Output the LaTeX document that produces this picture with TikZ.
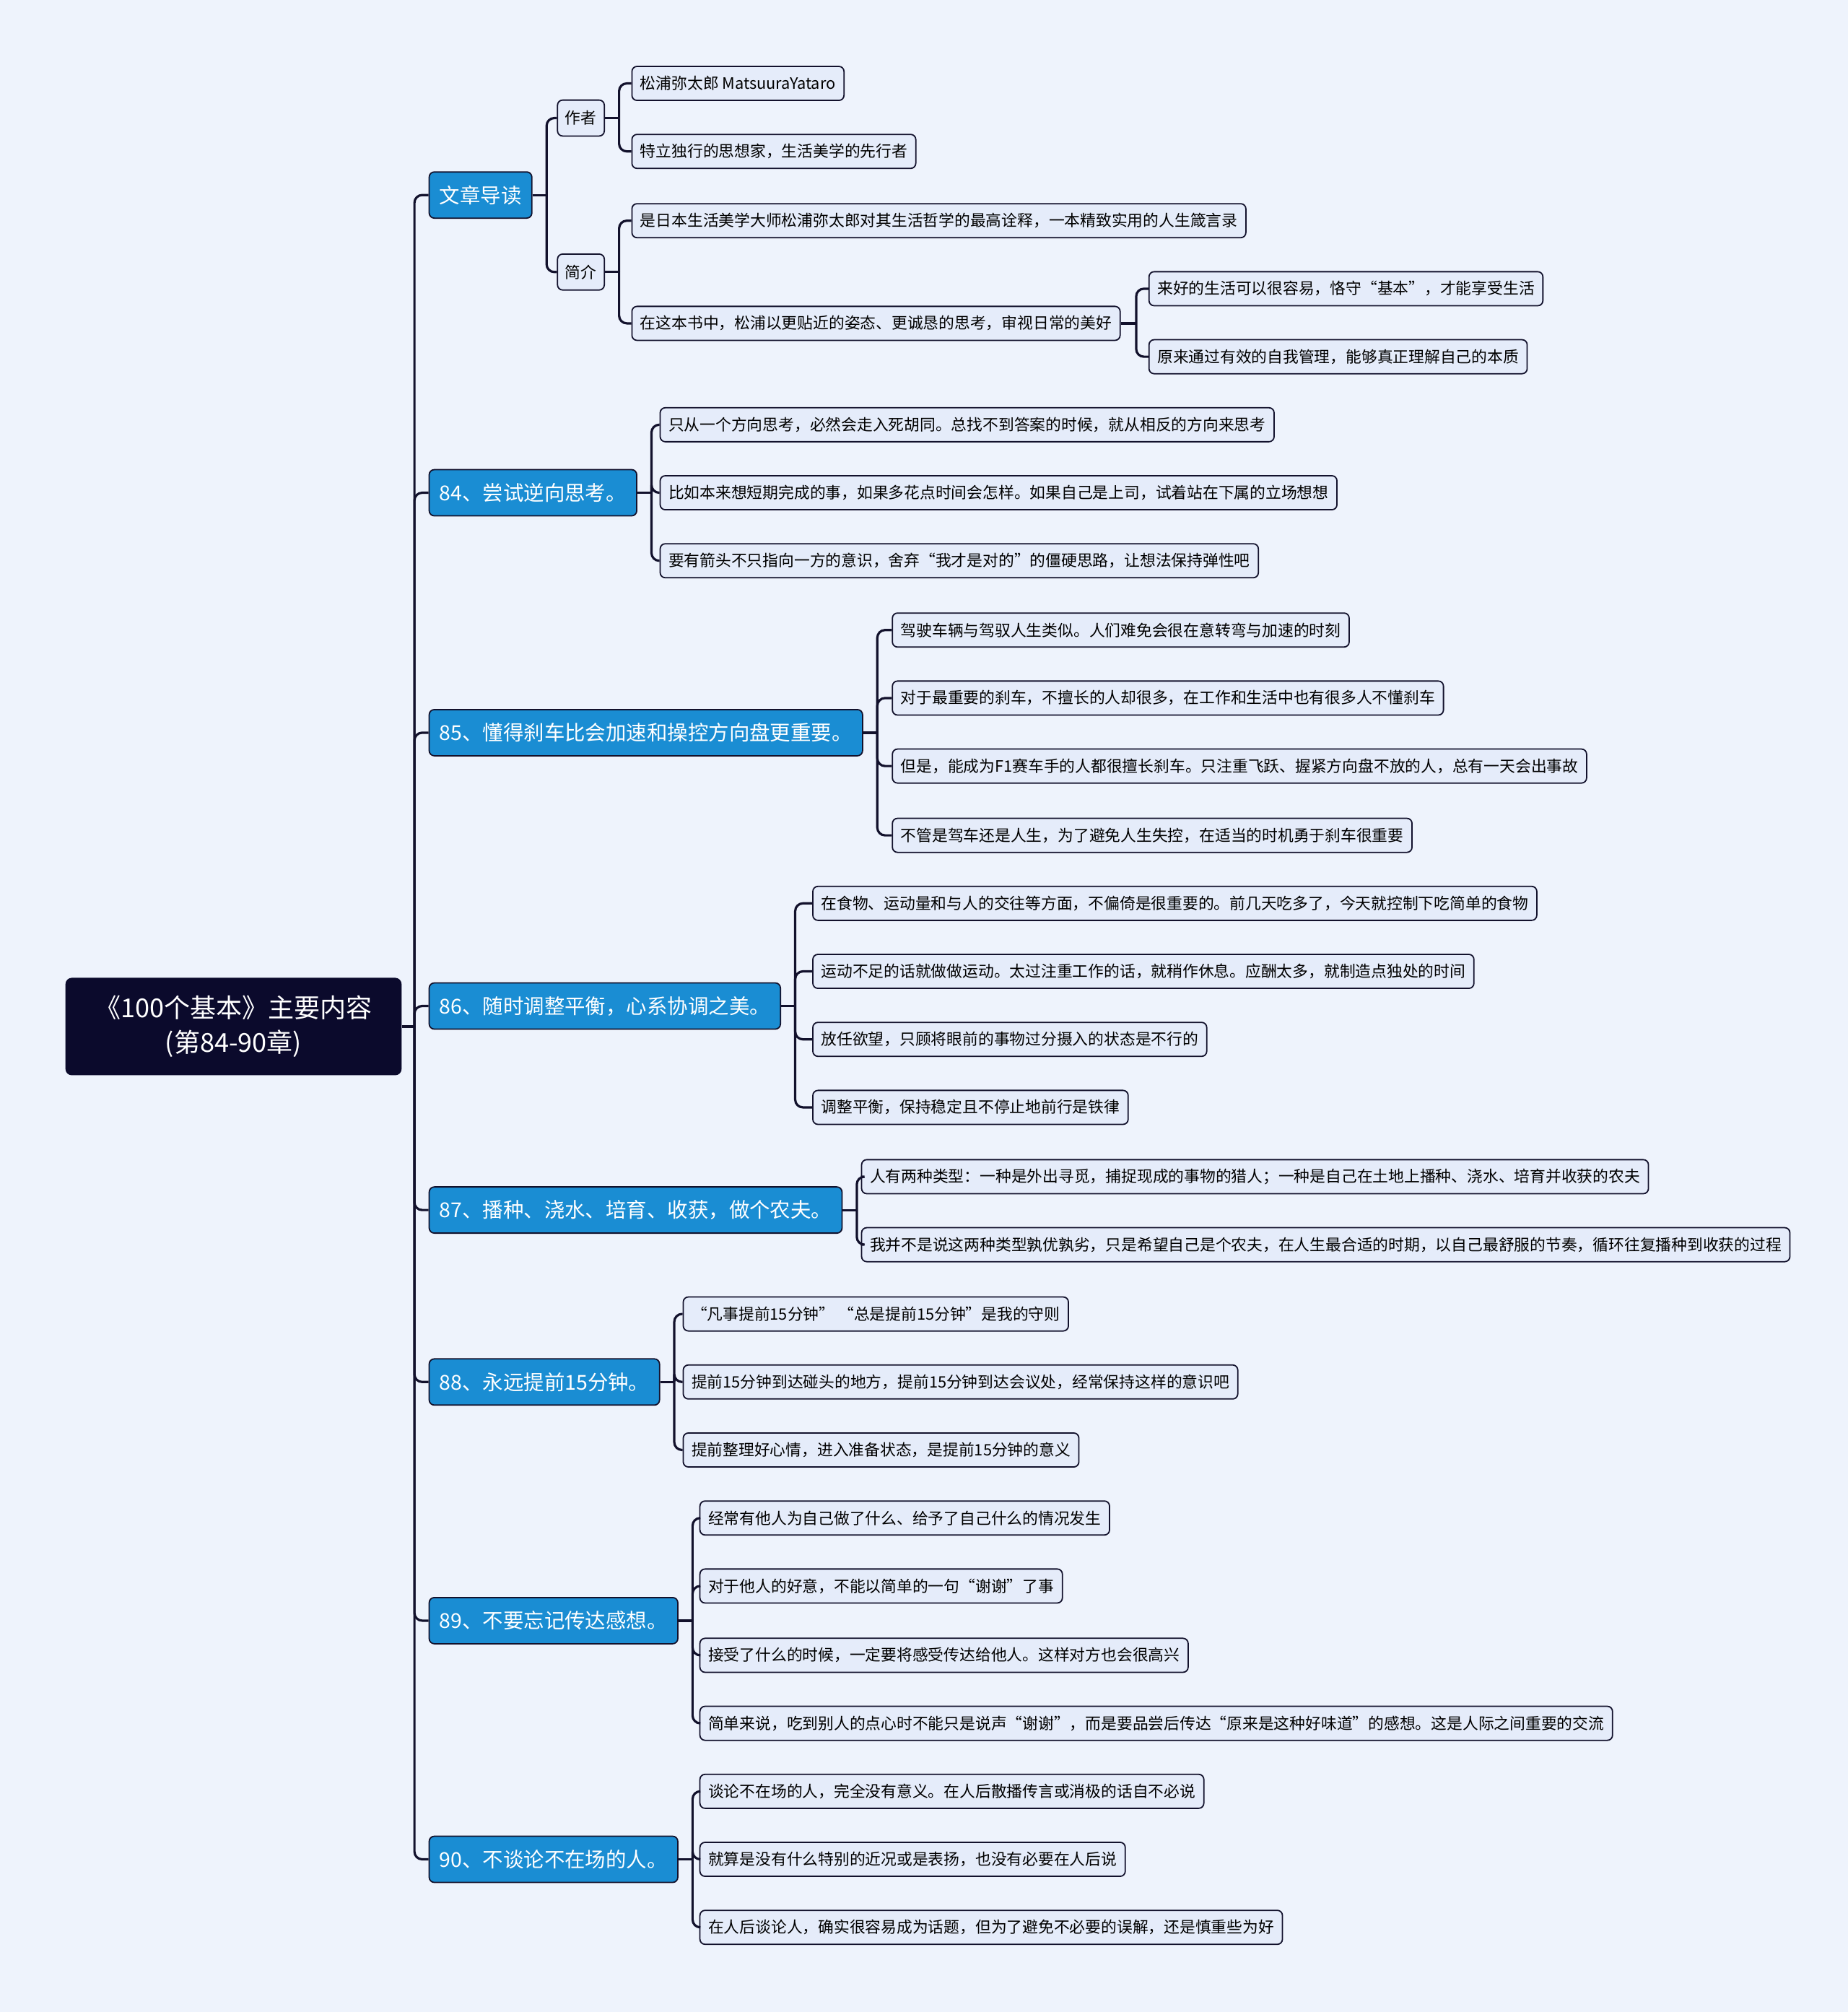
\documentclass[tikz,border=0pt]{standalone}
\usepackage{fontspec}
\setmainfont{Noto Sans CJK SC}
\definecolor{bgcol}{HTML}{EEF3FC}
\definecolor{leaffill}{HTML}{E5ECFA}
\definecolor{linecol}{HTML}{12112C}
\definecolor{branchfill}{HTML}{1A8DD3}
\definecolor{rootfill}{HTML}{0B0A2C}
\begin{document}
\begin{tikzpicture}[x=1pt,y=-1pt,
    link/.style={draw=linecol,line width=1.8pt,rounded corners=6pt},
    leaf/.style={draw=linecol,fill=leaffill,line width=1pt,rounded corners=4pt,anchor=west,
      inner xsep=6.5pt,inner ysep=0pt,minimum height=26.5pt,font=\fontsize{12.25}{14}\selectfont},
    small/.style={leaf,inner xsep=6pt,minimum height=28pt},
    branch/.style={draw=linecol,fill=branchfill,text=white,line width=1pt,rounded corners=4pt,anchor=west,
      inner xsep=8pt,inner ysep=0pt,minimum height=36pt,font=\fontsize{16}{19}\selectfont},
    rootbox/.style={fill=rootfill,text=white,rounded corners=5pt,align=center,
      minimum width=262pt,minimum height=76pt,inner sep=0pt,font=\fontsize{20.3}{27}\selectfont}]
    \fill[bgcol] (0,0) rectangle (1440,1568);
    \useasboundingbox (0,0) rectangle (1440,1568);
    % root and branches
    \node[rootbox] (root) at (182,800) {《100个基本》主要内容\\(第84-90章)};
    \node[branch] (b1) at (334,152) {文章导读};
    \node[branch] (b2) at (334,384) {84、尝试逆向思考。};
    \node[branch] (b3) at (334,571) {85、懂得刹车比会加速和操控方向盘更重要。};
    \node[branch] (b4) at (334,784) {86、随时调整平衡，心系协调之美。};
    \node[branch] (b5) at (334,943) {87、播种、浇水、培育、收获，做个农夫。};
    \node[branch] (b6) at (334,1077) {88、永远提前15分钟。};
    \node[branch] (b7) at (334,1263) {89、不要忘记传达感想。};
    \node[branch] (b8) at (334,1449) {90、不谈论不在场的人。};
    \draw[link] (root.east) -- (323,800) coordinate (t);
    \foreach \b in {b1,b2,b3,b4,b5,b6,b7,b8}
        \draw[link] (t) |- (\b.west);
    % 文章导读
    \node[small] (b1a) at (434,92) {作者};
    \node[small] (b1b) at (434,212) {简介};
    \draw[link] (b1.east) -- ++(11,0) coordinate (f1);
    \draw[link] (f1) |- (b1a.west);
    \draw[link] (f1) |- (b1b.west);
    \node[leaf] (b1a1) at (492,65) {松浦弥太郎 MatsuuraYataro};
    \node[leaf] (b1a2) at (492,118) {特立独行的思想家，生活美学的先行者};
    \draw[link] (b1a.east) -- ++(11,0) coordinate (f1a);
    \draw[link] (f1a) |- (b1a1.west);
    \draw[link] (f1a) |- (b1a2.west);
    \node[leaf] (b1b1) at (492,172) {是日本生活美学大师松浦弥太郎对其生活哲学的最高诠释，一本精致实用的人生箴言录};
    \node[leaf] (b1b2) at (492,252) {在这本书中，松浦以更贴近的姿态、更诚恳的思考，审视日常的美好};
    \draw[link] (b1b.east) -- ++(11,0) coordinate (f1b);
    \draw[link] (f1b) |- (b1b1.west);
    \draw[link] (f1b) |- (b1b2.west);
    \node[leaf] (b1c1) at (895,225) {来好的生活可以很容易，恪守“基本”，才能享受生活};
    \node[leaf] (b1c2) at (895,278) {原来通过有效的自我管理，能够真正理解自己的本质};
    \draw[link] (b1b2.east) -- ++(12,0) coordinate (f1c);
    \draw[link] (f1c) |- (b1c1.west);
    \draw[link] (f1c) |- (b1c2.west);
    % 84
    \node[leaf] (b2a) at (514,331) {只从一个方向思考，必然会走入死胡同。总找不到答案的时候，就从相反的方向来思考};
    \node[leaf] (b2b) at (514,384) {比如本来想短期完成的事，如果多花点时间会怎样。如果自己是上司，试着站在下属的立场想想};
    \node[leaf] (b2c) at (514,437) {要有箭头不只指向一方的意识，舍弃“我才是对的”的僵硬思路，让想法保持弹性吧};
    \draw[link] (b2.east) -- ++(11,0) coordinate (f2);
    \foreach \c in {b2a,b2b,b2c}
        \draw[link] (f2) |- (\c.west);
    % 85
    \node[leaf] (b3a) at (695,491) {驾驶车辆与驾驭人生类似。人们难免会很在意转弯与加速的时刻};
    \node[leaf] (b3b) at (695,544) {对于最重要的刹车，不擅长的人却很多，在工作和生活中也有很多人不懂刹车};
    \node[leaf] (b3c) at (695,597) {但是，能成为F1赛车手的人都很擅长刹车。只注重飞跃、握紧方向盘不放的人，总有一天会出事故};
    \node[leaf] (b3d) at (695,651) {不管是驾车还是人生，为了避免人生失控，在适当的时机勇于刹车很重要};
    \draw[link] (b3.east) -- ++(11,0) coordinate (f3);
    \foreach \c in {b3a,b3b,b3c,b3d}
        \draw[link] (f3) |- (\c.west);
    % 86
    \node[leaf] (b4a) at (633,704) {在食物、运动量和与人的交往等方面，不偏倚是很重要的。前几天吃多了，今天就控制下吃简单的食物};
    \node[leaf] (b4b) at (633,757) {运动不足的话就做做运动。太过注重工作的话，就稍作休息。应酬太多，就制造点独处的时间};
    \node[leaf] (b4c) at (633,810) {放任欲望，只顾将眼前的事物过分摄入的状态是不行的};
    \node[leaf] (b4d) at (633,863) {调整平衡，保持稳定且不停止地前行是铁律};
    \draw[link] (b4.east) -- ++(11,0) coordinate (f4);
    \foreach \c in {b4a,b4b,b4c,b4d}
        \draw[link] (f4) |- (\c.west);
    % 87
    \node[leaf] (b5a) at (671,917) {人有两种类型：一种是外出寻觅，捕捉现成的事物的猎人；一种是自己在土地上播种、浇水、培育并收获的农夫};
    \node[leaf] (b5b) at (671,970) {我并不是说这两种类型孰优孰劣，只是希望自己是个农夫，在人生最合适的时期，以自己最舒服的节奏，循环往复播种到收获的过程};
    \draw[link] (b5.east) -- ++(11,0) coordinate (f5);
    \foreach \c in {b5a,b5b}
        \draw[link] (f5) |- (\c.west);
    % 88
    \node[leaf] (b6a) at (532,1024) {“凡事提前15分钟” “总是提前15分钟”是我的守则};
    \node[leaf] (b6b) at (532,1077) {提前15分钟到达碰头的地方，提前15分钟到达会议处，经常保持这样的意识吧};
    \node[leaf] (b6c) at (532,1130) {提前整理好心情，进入准备状态，是提前15分钟的意义};
    \draw[link] (b6.east) -- ++(11,0) coordinate (f6);
    \foreach \c in {b6a,b6b,b6c}
        \draw[link] (f6) |- (\c.west);
    % 89
    \node[leaf] (b7a) at (545,1183) {经常有他人为自己做了什么、给予了自己什么的情况发生};
    \node[leaf] (b7b) at (545,1236) {对于他人的好意，不能以简单的一句“谢谢”了事};
    \node[leaf] (b7c) at (545,1290) {接受了什么的时候，一定要将感受传达给他人。这样对方也会很高兴};
    \node[leaf] (b7d) at (545,1343) {简单来说，吃到别人的点心时不能只是说声“谢谢”，而是要品尝后传达“原来是这种好味道”的感想。这是人际之间重要的交流};
    \draw[link] (b7.east) -- ++(11,0) coordinate (f7);
    \foreach \c in {b7a,b7b,b7c,b7d}
        \draw[link] (f7) |- (\c.west);
    % 90
    \node[leaf] (b8a) at (545,1396) {谈论不在场的人，完全没有意义。在人后散播传言或消极的话自不必说};
    \node[leaf] (b8b) at (545,1449) {就算是没有什么特别的近况或是表扬，也没有必要在人后说};
    \node[leaf] (b8c) at (545,1502) {在人后谈论人，确实很容易成为话题，但为了避免不必要的误解，还是慎重些为好};
    \draw[link] (b8.east) -- ++(11,0) coordinate (f8);
    \foreach \c in {b8a,b8b,b8c}
        \draw[link] (f8) |- (\c.west);
\end{tikzpicture}
\end{document}
